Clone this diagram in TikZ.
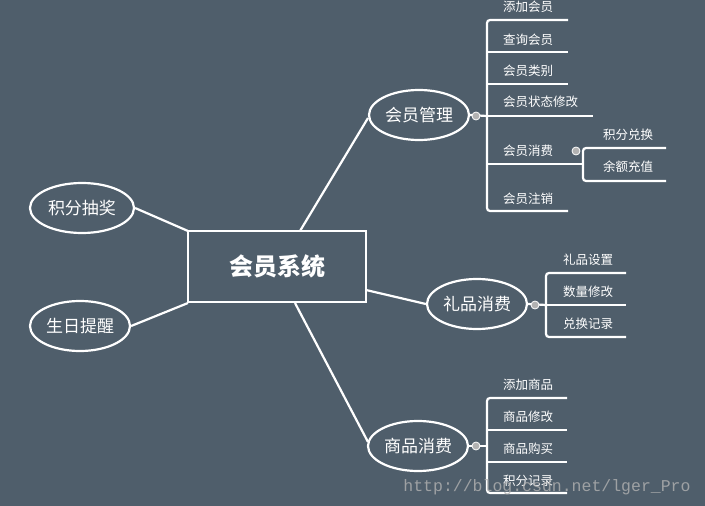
\documentclass[tikz,border=0pt]{standalone}
\usetikzlibrary{shapes.geometric}
\usepackage{fontspec}
\setmainfont{Noto Sans CJK SC}
\setmonofont{Liberation Mono}
\begin{document}
\begin{tikzpicture}[x=1pt,y=-1pt,
  ln/.style={white,line width=2.2pt},
  oval/.style={ellipse,draw=white,line width=2.2pt,minimum width=100pt,minimum height=50pt,inner sep=0pt,text=white,font=\fontsize{17}{17}\selectfont},
  leaf/.style={text=white,font=\fontsize{12.5}{13}\selectfont,inner sep=0pt},
  knob/.style={circle,fill=gray!60,draw=white,line width=0.8pt,inner sep=0pt,minimum size=8pt}]
\fill[fill={rgb,255:red,79;green,94;blue,107}] (0,0) rectangle (705,506);
\node[draw=white,line width=2.2pt,minimum width=178pt,minimum height=71pt,text=white,font=\fontsize{24}{24}\selectfont\bfseries] (c) at (277,266.5) {会员系统};
\node[oval,minimum width=104pt] (jf) at (82,208) {积分抽奖};
\node[oval] (sr) at (80,326) {生日提醒};
\node[oval] (hy) at (419,115) {会员管理};
\node[oval] (lp) at (477,304) {礼品消费};
\node[oval] (sp) at (418,446) {商品消费};
\coordinate (c1) at (188,231); \coordinate (c2) at (188,303);
\coordinate (c3) at (300,231); \coordinate (c4) at (366,290); \coordinate (c5) at (295,303);
\coordinate (h1) at (368,118); \coordinate (s1) at (368,442);
\draw[ln] (jf.east) -- (c1);
\draw[ln] (sr.east) -- (c2);
\draw[ln] (c3) -- (h1);
\draw[ln] (c4) -- (lp.west);
\draw[ln] (c5) -- (s1);
% 会员管理
\draw[ln] (hy.east) -- (487,116);
\draw[ln,rounded corners=3pt] (568,20) -- (487,20) -- (487,211) -- (568,211);
\foreach \y in {52,84,164} \draw[ln] (487,\y) -- (568,\y);
\draw[ln] (487,116) -- (593,116);
\node[knob] (k1) at (476,116) {};
\foreach \t/\y in {添加会员/7,查询会员/40,会员类别/71,会员消费/151,会员注销/199}
  \node[leaf,anchor=west] at (503,\y) {\t};
\node[leaf,anchor=west] at (503,102) {会员状态修改};
\draw[ln] (568,164) -- (583,164);
\draw[ln,rounded corners=3pt] (666,148) -- (583,148) -- (583,181) -- (666,181);
\node[knob] (k2) at (576,151) {};
\node[leaf] at (628,135) {积分兑换};
\node[leaf] at (628,167) {余额充值};
% 礼品消费
\draw[ln] (lp.east) -- (546,305);
\draw[ln,rounded corners=3pt] (626,273) -- (546,273) -- (546,337) -- (626,337);
\draw[ln] (546,305) -- (626,305);
\node[knob] (k3) at (535,305) {};
\node[leaf] at (588,260) {礼品设置};
\node[leaf] at (588,292) {数量修改};
\node[leaf] at (588,324) {兑换记录};
% 商品消费
\draw[ln] (sp.east) -- (487,446);
\draw[ln,rounded corners=3pt] (567,398) -- (487,398) -- (487,493) -- (567,493);
\foreach \y in {430,462} \draw[ln] (487,\y) -- (567,\y);
\node[knob] (k4) at (476,446) {};
\node[leaf] at (528,385) {添加商品};
\node[leaf] at (528,417) {商品修改};
\node[leaf] at (528,449) {商品购买};
\node[leaf] at (528,481) {积分记录};
\node[text=gray!60!white,opacity=0.8,font=\ttfamily\fontsize{16.5}{16}\selectfont] at (547,487) {http://blog.csdn.net/lger\_Pro};
\end{tikzpicture}
\end{document}
